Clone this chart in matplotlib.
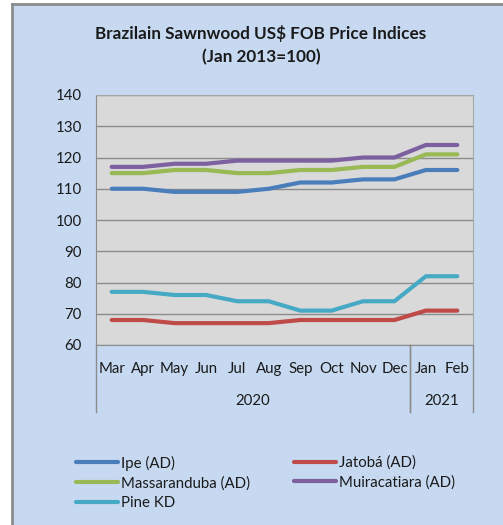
import numpy as np
import matplotlib.pyplot as plt

plt.rcParams['font.family'] = ['Lato', 'DejaVu Sans']

# data
months = ["Mar", "Apr", "May", "Jun", "Jul", "Aug", "Sep", "Oct", "Nov", "Dec", "Jan", "Feb"]
years = ["2020", "2021"]
year_span = [10, 2]  # number of months under each year label

ipe = [110, 110, 109, 109, 109, 110, 112, 112, 113, 113, 116, 116]
jatoba = [68, 68, 67, 67, 67, 67, 68, 68, 68, 68, 71, 71]
massaranduba = [115, 115, 116, 116, 115, 115, 116, 116, 117, 117, 121, 121]
muiracatiara = [117, 117, 118, 118, 119, 119, 119, 119, 120, 120, 124, 124]
pine_kd = [77, 77, 76, 76, 74, 74, 71, 71, 74, 74, 82, 82]

series = [
    ("Ipe (AD)", ipe, "#4a7ebb"),
    ("Jatobá (AD)", jatoba, "#be4b48"),
    ("Massaranduba (AD)", massaranduba, "#98b954"),
    ("Muiracatiara (AD)", muiracatiara, "#7d60a0"),
    ("Pine KD", pine_kd, "#46aac5"),
]

W, H = 503, 525
fig = plt.figure(figsize=(W / 100, H / 100), dpi=100)
fig.patch.set_facecolor("white")

# light blue chart area with grey border on left/top
bg = plt.Rectangle((12 / W, 0), 1, (H - 4) / H, transform=fig.transFigure,
                   facecolor="#c6d9f1", edgecolor="none", zorder=-10)
fig.patches.append(bg)
fig.lines.append(plt.Line2D([12 / W, 12 / W], [0, (H - 4) / H], transform=fig.transFigure,
                            color="#8c8c8c", lw=2, zorder=-5))
fig.lines.append(plt.Line2D([12 / W, 1], [(H - 4) / H, (H - 4) / H], transform=fig.transFigure,
                            color="#8c8c8c", lw=2, zorder=-5))

left, right, top, bottom = 96, 473, 95, 345
ax = fig.add_axes([left / W, 1 - bottom / H, (right - left) / W, (bottom - top) / H])
ax.set_zorder(1)
ax.set_facecolor("#d9d9d9")

x = np.arange(len(months))
handles = {}
for name, vals, col in series:
    (ln,) = ax.plot(x, vals, color=col, lw=3, solid_capstyle="round",
                    solid_joinstyle="round", label=name, zorder=3)
    handles[name] = ln

ax.set_xlim(-0.5, len(months) - 0.5)
ax.set_ylim(60, 140)
ax.set_yticks(range(60, 141, 10))
ax.yaxis.grid(True, color="#8c8c8c", lw=1)
ax.set_axisbelow(True)
ax.tick_params(axis="y", length=0, pad=10, labelsize=10.8, colors="#1a1a1a")
ax.set_xticks(x)
ax.set_xticklabels(months)
ax.tick_params(axis="x", length=0, pad=12, labelsize=10.8, colors="#1a1a1a")

for s in ["top", "right"]:
    ax.spines[s].set_color("#a6a6a6")
ax.spines["left"].set_color("#8c8c8c")
ax.spines["bottom"].set_color("#8c8c8c")

# group separators and year labels below the month labels
ybot = -(412 - bottom) / (bottom - top)
tr = ax.get_xaxis_transform()
start = -0.5
for yr, n in zip(years, year_span):
    end = start + n
    ax.plot([start, start], [0, ybot], transform=tr, color="#8c8c8c", lw=1, clip_on=False)
    ax.plot([end, end], [0, ybot], transform=tr, color="#8c8c8c", lw=1, clip_on=False)
    ax.text((start + end) / 2, -(401 - bottom) / (bottom - top), yr, transform=tr,
            ha="center", va="center", fontsize=10.8, color="#1a1a1a")
    start = end

fig.text(261 / W, 1 - 33 / H, "Brazilain Sawnwood US$ FOB Price Indices",
         ha="center", va="center", fontsize=12.3, fontweight="bold", color="#1a1a1a")
fig.text(261 / W, 1 - 57 / H, "(Jan 2013=100)",
         ha="center", va="center", fontsize=12.3, fontweight="bold", color="#1a1a1a")

# legend laid out as two separate columns, filled row by row like the original
legend_cols = [["Ipe (AD)", "Massaranduba (AD)", "Pine KD"],
               ["Jatobá (AD)", "Muiracatiara (AD)"]]
anchors_x = [62, 280]
for names, ax_x in zip(legend_cols, anchors_x):
    leg = fig.legend([handles[n] for n in names], names,
                     loc="upper left", bbox_to_anchor=(ax_x / W, 1 - 442 / H),
                     frameon=False, fontsize=10.8, handlelength=2.8, handletextpad=0.25,
                     labelspacing=0.37)
    for t in leg.get_texts():
        t.set_color("#1a1a1a")

fig.savefig("out.png", dpi=100, facecolor=fig.get_facecolor())
